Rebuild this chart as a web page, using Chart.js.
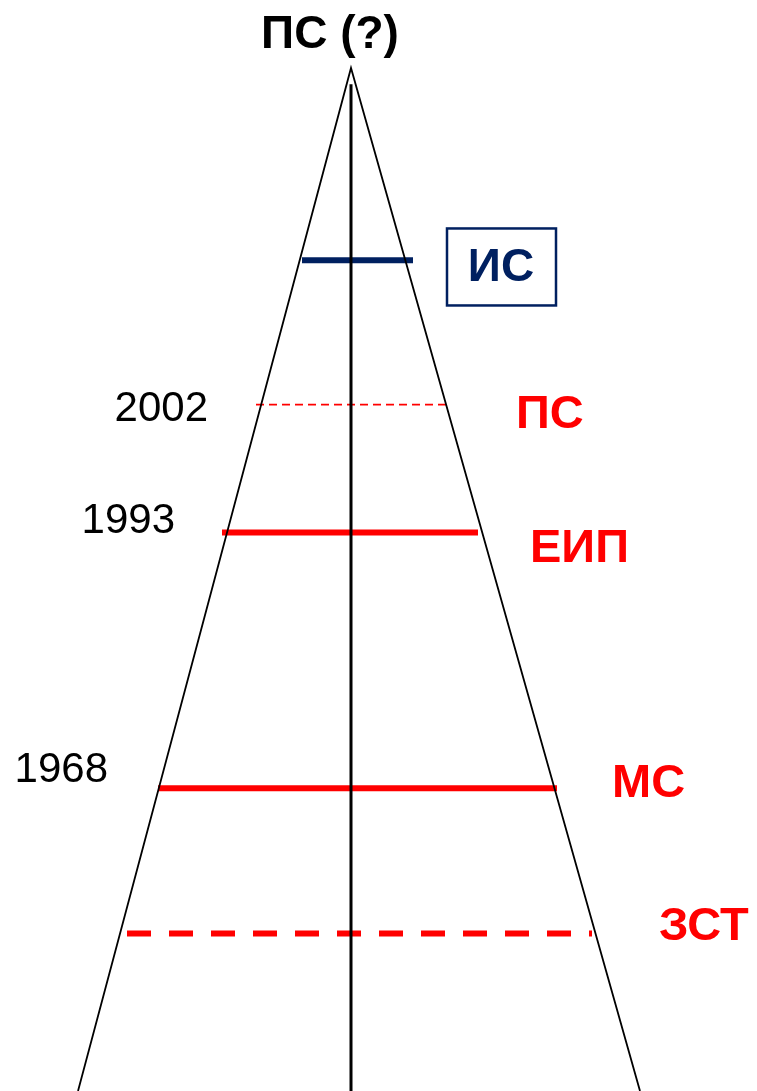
<!DOCTYPE html>
<html>
<head>
<meta charset="utf-8">
<title>ПС (?)</title>
<script src="https://cdn.jsdelivr.net/npm/chart.js@4.4.1/dist/chart.umd.min.js"></script>
<style>
  html, body { margin: 0; padding: 0; background: #fff; }
  #wrap { width: 757px; height: 1091px; position: relative; }
</style>
</head>
<body>
<div id="wrap"><canvas id="pyramid"></canvas></div>
<script>
// Schematic pyramid: y = level (0 base .. 100 apex), x = horizontal offset from the axis
const apex = { x: 0, y: 100 };
const baseLeft = { x: -27.3, y: 0 };
const baseRight = { x: 28.9, y: 0 };
const axisTop = 98.4;

// horizontal marks: name, level, left end, right end
const markNames = ['ИС', '2002', '1993', '1968', 'ЗСТ'];
const markLevels = [81.2, 67.1, 54.6, 29.6, 15.4];
const markLeft = [-4.9, -9.5, -12.9, -19.3, -22.4];
const markRight = [6.2, 9.6, 12.7, 20.6, 24.1];

// text labels
const yearLabels = ['2002', '1993', '1968'];
const yearLevels = [66.6, 55.7, 31.3];
const yearRightX = [-14.3, -17.6, -24.3];

const stageLabels = ['ПС', 'ЕИП', 'МС', 'ЗСТ'];
const stageLevels = [66.1, 53.0, 30.0, 16.0];
const stageLeftX = [16.5, 17.9, 26.1, 30.8];

const topLabel = 'ПС (?)';
const topLabelPos = { x: -2.1, y: 103.2 };
const boxLabel = 'ИС';
const boxPos = { x: 15.0, y: 80.6 };

const RED = '#ff0000';
const NAVY = '#002060';

const markStyles = [
  { color: NAVY, width: 6, dash: [] },
  { color: RED, width: 1.8, dash: [8, 5] },
  { color: RED, width: 6, dash: [] },
  { color: RED, width: 6, dash: [] },
  { color: RED, width: 6, dash: [24, 18] }
];

const datasets = [
  {
    label: 'pyramid',
    data: [baseLeft, apex, baseRight],
    borderColor: '#000', borderWidth: 1.8
  },
  {
    label: 'axis',
    data: [{ x: 0, y: axisTop }, { x: 0, y: 0 }],
    borderColor: '#000', borderWidth: 3
  }
];
markNames.forEach((n, i) => {
  datasets.push({
    label: n,
    data: [{ x: markLeft[i], y: markLevels[i] }, { x: markRight[i], y: markLevels[i] }],
    borderColor: markStyles[i].color,
    borderWidth: markStyles[i].width,
    borderDash: markStyles[i].dash
  });
});
datasets.forEach(d => { d.showLine = true; d.pointRadius = 0; d.fill = false; d.clip = false; d.borderCapStyle = 'butt'; });

const labelsPlugin = {
  id: 'labels',
  afterDraw(chart) {
    const ctx = chart.ctx, sx = chart.scales.x, sy = chart.scales.y;
    const px = v => sx.getPixelForValue(v), py = v => sy.getPixelForValue(v);
    ctx.save();
    ctx.textBaseline = 'middle';

    ctx.fillStyle = '#000';
    ctx.font = 'bold 46px "Liberation Sans", Arial, sans-serif';
    ctx.textAlign = 'center';
    ctx.fillText(topLabel, px(topLabelPos.x), py(topLabelPos.y));

    // boxed label
    const bx = px(boxPos.x), by = py(boxPos.y);
    ctx.strokeStyle = NAVY;
    ctx.lineWidth = 2.5;
    ctx.strokeRect(bx - 54, by - 38, 109, 77);
    ctx.fillStyle = NAVY;
    ctx.fillText(boxLabel, bx, by + 2);

    ctx.font = '42px "Liberation Sans", Arial, sans-serif';
    ctx.fillStyle = '#000';
    ctx.textAlign = 'right';
    yearLabels.forEach((t, i) => ctx.fillText(t, px(yearRightX[i]), py(yearLevels[i])));

    ctx.font = 'bold 47px "Liberation Sans", Arial, sans-serif';
    ctx.fillStyle = RED;
    ctx.textAlign = 'left';
    stageLabels.forEach((t, i) => ctx.fillText(t, px(stageLeftX[i]), py(stageLevels[i])));
    ctx.restore();
  }
};

new Chart(document.getElementById('pyramid'), {
  type: 'scatter',
  data: { datasets },
  options: {
    responsive: true,
    maintainAspectRatio: false,
    animation: false,
    layout: { padding: { top: 68, left: 0, right: 0, bottom: 0 } },
    plugins: { legend: { display: false }, tooltip: { enabled: false } },
    scales: {
      x: { type: 'linear', min: -35.1, max: 40.6, display: false },
      y: { type: 'linear', min: 0, max: 100, display: false }
    }
  },
  plugins: [labelsPlugin]
});
</script>
</body>
</html>
